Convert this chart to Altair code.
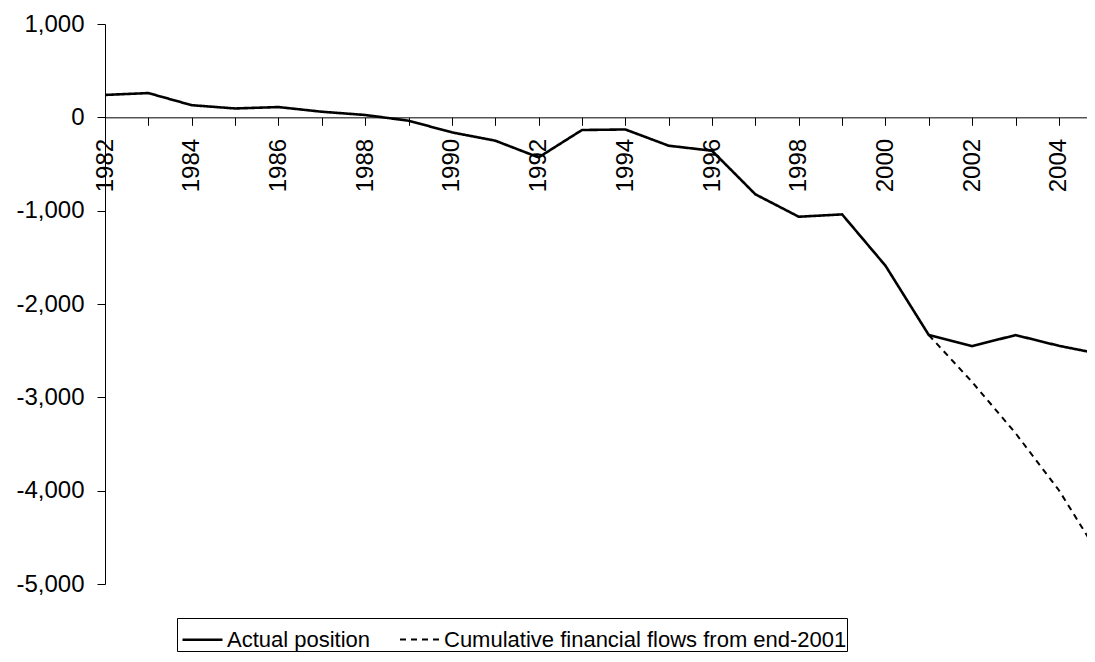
import altair as alt
import pandas as pd

years = list(range(1982, 2006))
actual = [240, 260, 130, 95, 110, 60, 25, -36, -161, -250, -429, -136, -130,
          -304, -358, -825, -1065, -1040, -1590, -2333, -2451, -2333, -2448, -2540]
flow_years = [2001, 2002, 2003, 2004, 2005]
flows = [-2333, -2837, -3384, -3995, -4745]

s1 = "Actual position"
s2 = "Cumulative financial flows from end-2001"

df = pd.concat([
    pd.DataFrame({"year": years, "value": actual, "series": s1}),
    pd.DataFrame({"year": flow_years, "value": flows, "series": s2}),
])

W = 982
H = 560
x_end = 1982 + W / 43.36
zero_off = -(H - H * 1000 / 6000)

leg = alt.Legend(title=None, orient="none", direction="horizontal",
                 legendX=72, legendY=594)

chart = alt.Chart(df).mark_line(clip=True).encode(
    x=alt.X("year:Q",
            scale=alt.Scale(domain=[1982, x_end], nice=False, zero=False),
            axis=alt.Axis(orient="bottom", offset=zero_off,
                          values=list(range(1982, 2005)),
                          labelExpr="datum.value % 2 == 0 ? datum.value : ''",
                          labelAngle=270, labelAlign="right", labelBaseline="middle",
                          labelPadding=13, tickSize=8, title=None,
                          labelOverlap=False, labelBound=False, labelFlush=False)),
    y=alt.Y("value:Q",
            scale=alt.Scale(domain=[-5000, 1000], nice=False, zero=False),
            axis=alt.Axis(values=list(range(-5000, 1001, 1000)),
                          labelExpr="replace(format(datum.value, ','), '\u2212', '-')",
                          tickSize=8, labelPadding=13, title=None)),
    color=alt.Color("series:N",
                    scale=alt.Scale(domain=[s1, s2], range=["black", "black"]),
                    legend=leg),
    strokeDash=alt.StrokeDash("series:N",
                              scale=alt.Scale(domain=[s1, s2], range=[[1, 0], [6, 5]]),
                              legend=leg),
    strokeWidth=alt.StrokeWidth("series:N",
                                scale=alt.Scale(domain=[s1, s2], range=[2.6, 2]),
                                legend=None),
).properties(
    width=W, height=H,
    autosize=alt.AutoSizeParams(type="none"),
    padding={"left": 97, "top": 16, "right": 0, "bottom": 70},
).configure(
    background="white",
    font="Liberation Sans",
).configure_view(
    stroke=None,
).configure_axis(
    grid=False,
    domainColor="black",
    domainWidth=1,
    tickColor="black",
    tickWidth=1,
    labelColor="black",
    labelFont="Liberation Sans",
    labelFontSize=24,
).configure_legend(
    strokeColor="black",
    strokeWidth=1,
    fillColor="white",
    padding=0,
    cornerRadius=0,
    symbolType="stroke",
    symbolSize=1600,
    symbolStrokeWidth=2,
    symbolStrokeColor="black",
    labelFont="Liberation Sans",
    labelFontSize=22,
    labelColor="black",
    labelLimit=600,
    columnPadding=24,
    symbolOffset=4,
    labelOffset=3,
)

chart.save("out.html", embed_options={"renderer": "svg", "actions": False})
